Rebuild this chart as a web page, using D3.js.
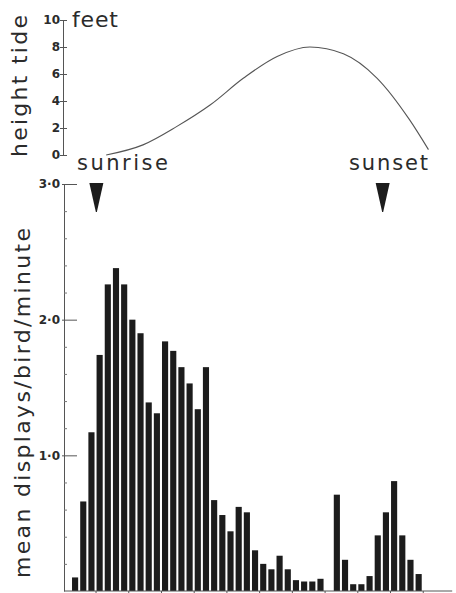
<!DOCTYPE html>
<html lang="en">
<head>
<meta charset="utf-8">
<title>Display rate and tide</title>
<script type="text/javascript" src="https://d3js.org/d3.v7.min.js"></script>
<style>
  body { margin: 0; background: #fff; }
  text { font-family: "DejaVu Sans", sans-serif; fill: #2b2b2b; }
  .tick text { font-weight: bold; font-size: 12px; }
</style>
</head>
<body>
    <div id="container"></div>
    <script type="text/javascript">

    // quarter-hour slots, sunrise to after sunset
    var displayRate = [0.10, 0.66, 1.17, 1.74, 2.26, 2.38, 2.26, 2.00, 1.90, 1.39,
                       1.31, 1.84, 1.77, 1.65, 1.53, 1.34, 1.65, 0.67, 0.56, 0.44,
                       0.62, 0.58, 0.30, 0.20, 0.16, 0.26, 0.16, 0.08, 0.07, 0.07,
                       0.09, 0, 0.71, 0.23, 0.05, 0.05, 0.11, 0.41, 0.58, 0.81,
                       0.41, 0.23, 0.125];
    // tide curve, time in slots
    var tideTime = [4.3, 8.8, 12.9, 17.0, 21.1, 25.2, 29.2, 33.3, 37.4, 41.4, 43.7];
    var tideFeet = [0.0, 0.75, 2.1, 3.7, 5.7, 7.3, 8.0, 7.5, 5.7, 2.6, 0.4];
    var tideTicks = [0, 2, 4, 6, 8, 10];
    var rateTicks = [1, 2, 3];
    var rateMinor = [0.2, 0.4, 0.6, 0.8, 1.2, 1.4, 1.6, 1.8, 2.2, 2.4, 2.6, 2.8];
    var hourTicks = [3, 7, 11, 15, 19, 23, 27, 31, 35, 39, 43];
    var sunTimes = [3.1, 38.1];
    var sunLabels = ["sunrise", "sunset"];

    var w = 456;
    var h = 593;

    var svg = d3.select("div#container").append("svg")
        .attr("width", w).attr("height", h)
        .style("background-color", "#fff");

    var xTime = d3.scaleLinear().domain([0, 43]).range([71, 422.74]);
    var xBar = d3.scaleBand().domain(d3.range(displayRate.length))
        .range([xTime(0), xTime(43)]).paddingInner(0.25).paddingOuter(0.125);
    var yTide = d3.scaleLinear().domain([0, 10]).range([155, 20]);
    var yRate = d3.scaleLinear().domain([0, 3]).range([591, 184]);

    // ---- tide panel
    var tideAxis = svg.append("g").attr("transform", "translate(63,0)")
        .call(d3.axisLeft(yTide).tickValues(tideTicks).tickSizeInner(0).tickSizeOuter(0).tickPadding(3));
    tideAxis.select(".domain").attr("stroke", "#555");
    tideAxis.selectAll(".tick line").attr("x1", -3).attr("x2", 4).attr("stroke", "#555");
    tideAxis.selectAll(".tick text").attr("fill", "#2b2b2b");

    var tidePts = tideTime.map(function(t, i) { return [t, tideFeet[i]]; });
    var tideLine = d3.line()
        .x(function(d) { return xTime(d[0]); })
        .y(function(d) { return yTide(d[1]); })
        .curve(d3.curveMonotoneX);
    svg.append("path").datum(tidePts)
        .attr("d", tideLine)
        .attr("fill", "none").attr("stroke", "#555").attr("stroke-width", 1.1);

    svg.append("text").attr("x", 72).attr("y", 27)
        .attr("font-size", 22).attr("textLength", 46).attr("lengthAdjust", "spacing")
        .text("feet");
    svg.append("text")
        .attr("transform", "translate(27,157) rotate(-90)")
        .attr("font-size", 22).attr("textLength", 142).attr("lengthAdjust", "spacing")
        .text("height tide");

    // ---- sunrise / sunset markers
    var labelX = [77, 349];
    var labelLen = [91, 79];
    sunTimes.forEach(function(t, i) {
        var cx = xTime(t);
        svg.append("text").attr("x", labelX[i]).attr("y", 170)
            .attr("font-size", 21).attr("textLength", labelLen[i]).attr("lengthAdjust", "spacing")
            .text(sunLabels[i]);
        svg.append("path")
            .attr("d", "M" + (cx - 7) + "," + (yRate(3) - 1) + " L" + (cx + 7) + "," + (yRate(3) - 1) +
                       " L" + (cx + 0.5) + "," + (yRate(3) + 28) + " L" + (cx - 0.5) + "," + (yRate(3) + 28) + "Z")
            .attr("fill", "#1c1c1c");
    });

    // ---- display rate panel
    svg.selectAll("rect.bar")
        .data(displayRate)
        .enter()
        .append("rect")
        .attr("class", "bar")
        .attr("x", function(d, i) { return xBar(i); })
        .attr("width", xBar.bandwidth())
        .attr("y", function(d) { return yRate(d); })
        .attr("height", function(d) { return yRate(0) - yRate(d); })
        .attr("fill", "#1c1c1c");

    var rateAxis = svg.append("g").attr("transform", "translate(64,0)")
        .call(d3.axisLeft(yRate).tickValues(rateTicks).tickSizeInner(0).tickSizeOuter(0).tickPadding(4)
            .tickFormat(function(d) { return d.toFixed(1).replace(".", "\u00b7"); }));
    rateAxis.select(".domain").attr("stroke", "#555");
    rateAxis.selectAll(".tick line").attr("x1", -2).attr("x2", 13).attr("stroke", "#555");
    rateAxis.selectAll(".tick text").attr("fill", "#2b2b2b");

    var minorAxis = svg.append("g").attr("transform", "translate(64,0)")
        .call(d3.axisRight(yRate).tickValues(rateMinor).tickSizeInner(3).tickSizeOuter(0).tickFormat(""));
    minorAxis.select(".domain").remove();
    minorAxis.selectAll(".tick line").attr("stroke", "#777");

    svg.append("line")
        .attr("x1", 64).attr("x2", xTime(46.6))
        .attr("y1", yRate(0)).attr("y2", yRate(0))
        .attr("stroke", "#555");
    var timeAxis = svg.append("g").attr("transform", "translate(0," + yRate(0) + ")")
        .call(d3.axisBottom(xTime).tickValues(hourTicks).tickSizeInner(3).tickSizeOuter(0).tickFormat(""));
    timeAxis.select(".domain").remove();
    timeAxis.selectAll(".tick line").attr("stroke", "#555");

    svg.append("text")
        .attr("transform", "translate(30,578) rotate(-90)")
        .attr("font-size", 22).attr("textLength", 350).attr("lengthAdjust", "spacing")
        .text("mean displays/bird/minute");

</script>
</body>
</html>
